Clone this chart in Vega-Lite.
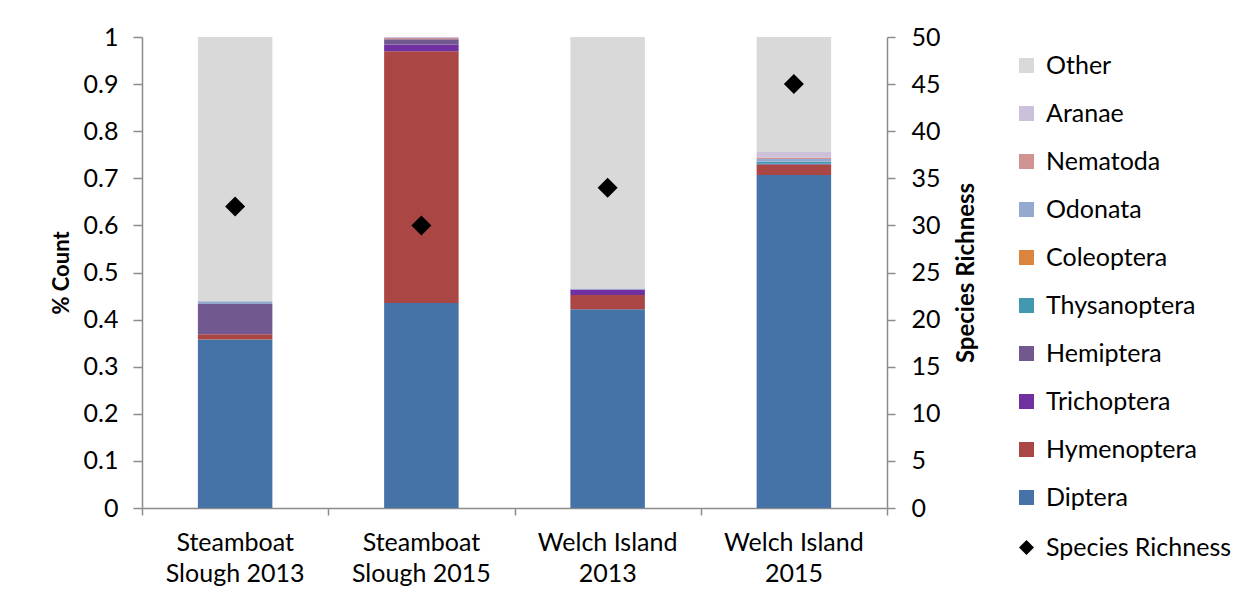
{
  "$schema": "https://vega.github.io/schema/vega-lite/v6.json",
  "width": 745,
  "height": 471,
  "autosize": {"type": "none"},
  "padding": {"left": 142, "top": 37, "right": 365, "bottom": 99},
  "background": "white",
  "config": {
    "font": "Lato",
    "view": {"stroke": null},
    "axis": {
      "labelFont": "Lato",
      "titleFont": "Lato",
      "labelColor": "#000000",
      "titleColor": "#000000",
      "domainColor": "#8c8c8c",
      "tickColor": "#8c8c8c",
      "domainWidth": 1.5,
      "tickWidth": 1.5,
      "grid": false
    },
    "legend": {
      "labelFont": "Lato",
      "labelFontSize": 25,
      "labelColor": "#000000",
      "labelLimit": 300,
      "padding": 0
    }
  },
  "datasets": {
    "composition": [
      {"site": "Steamboat\nSlough 2013", "taxon": "Diptera", "share": 0.358},
      {"site": "Steamboat\nSlough 2013", "taxon": "Hymenoptera", "share": 0.011},
      {"site": "Steamboat\nSlough 2013", "taxon": "Hemiptera", "share": 0.064},
      {"site": "Steamboat\nSlough 2013", "taxon": "Odonata", "share": 0.006},
      {"site": "Steamboat\nSlough 2013", "taxon": "Other", "share": 0.561},
      {"site": "Steamboat\nSlough 2015", "taxon": "Diptera", "share": 0.435},
      {"site": "Steamboat\nSlough 2015", "taxon": "Hymenoptera", "share": 0.535},
      {"site": "Steamboat\nSlough 2015", "taxon": "Trichoptera", "share": 0.014},
      {"site": "Steamboat\nSlough 2015", "taxon": "Hemiptera", "share": 0.011},
      {"site": "Steamboat\nSlough 2015", "taxon": "Nematoda", "share": 0.003},
      {"site": "Steamboat\nSlough 2015", "taxon": "Aranae", "share": 0.002},
      {"site": "Welch Island\n2013", "taxon": "Diptera", "share": 0.422},
      {"site": "Welch Island\n2013", "taxon": "Hymenoptera", "share": 0.030},
      {"site": "Welch Island\n2013", "taxon": "Trichoptera", "share": 0.012},
      {"site": "Welch Island\n2013", "taxon": "Odonata", "share": 0.002},
      {"site": "Welch Island\n2013", "taxon": "Other", "share": 0.534},
      {"site": "Welch Island\n2015", "taxon": "Diptera", "share": 0.707},
      {"site": "Welch Island\n2015", "taxon": "Hymenoptera", "share": 0.022},
      {"site": "Welch Island\n2015", "taxon": "Hemiptera", "share": 0.002},
      {"site": "Welch Island\n2015", "taxon": "Thysanoptera", "share": 0.004},
      {"site": "Welch Island\n2015", "taxon": "Odonata", "share": 0.006},
      {"site": "Welch Island\n2015", "taxon": "Nematoda", "share": 0.003},
      {"site": "Welch Island\n2015", "taxon": "Aranae", "share": 0.012},
      {"site": "Welch Island\n2015", "taxon": "Other", "share": 0.244}
    ],
    "richness": [
      {"site": "Steamboat\nSlough 2013", "richness": 32},
      {"site": "Steamboat\nSlough 2015", "richness": 30},
      {"site": "Welch Island\n2013", "richness": 34},
      {"site": "Welch Island\n2015", "richness": 45}
    ]
  },
  "layer": [
    {
      "data": {"name": "composition"},
      "transform": [
        {
          "calculate": "indexof(['Diptera','Hymenoptera','Trichoptera','Hemiptera','Thysanoptera','Coleoptera','Odonata','Nematoda','Aranae','Other'], datum.taxon)",
          "as": "stackRank"
        }
      ],
      "mark": {"type": "bar", "width": {"band": 0.4}},
      "encoding": {
        "x": {
          "field": "site",
          "type": "nominal",
          "sort": ["Steamboat\nSlough 2013", "Steamboat\nSlough 2015", "Welch Island\n2013", "Welch Island\n2015"],
          "scale": {"paddingInner": 0, "paddingOuter": 0},
          "axis": {
            "title": null,
            "orient": "bottom",
            "labels": false,
            "tickSize": 7,
            "tickBand": "extent"
          }
        },
        "y": {
          "field": "share",
          "type": "quantitative",
          "stack": "zero",
          "scale": {"domain": [0, 1], "nice": false},
          "axis": {
            "title": "% Count",
            "titleFontSize": 22,
            "titleFontWeight": "bold",
            "titlePadding": 10,
            "labelFontSize": 25,
            "labelPadding": 15,
            "tickSize": 9,
            "format": ".1~f",
            "values": [0, 0.1, 0.2, 0.3, 0.4, 0.5, 0.6, 0.7, 0.8, 0.9, 1]
          }
        },
        "color": {
          "field": "taxon",
          "type": "nominal",
          "scale": {
            "domain": ["Other", "Aranae", "Nematoda", "Odonata", "Coleoptera", "Thysanoptera", "Hemiptera", "Trichoptera", "Hymenoptera", "Diptera"],
            "range": ["#d9d9d9", "#ccc1da", "#d19392", "#93a9cf", "#db843d", "#4198af", "#71588f", "#7030a0", "#aa4643", "#4572a7"]
          },
          "legend": {
            "title": null,
            "orient": "none",
            "legendX": 872,
            "legendY": 16,
            "symbolType": "square",
            "symbolSize": 225,
            "symbolStrokeWidth": 0,
            "labelOffset": 7,
            "rowPadding": 22
          }
        },
        "order": {"field": "stackRank", "type": "quantitative", "sort": "ascending"}
      }
    },
    {
      "data": {"name": "richness"},
      "transform": [{"calculate": "'Species Richness'", "as": "series"}],
      "mark": {"type": "point", "shape": "diamond", "filled": true, "color": "#000000", "size": 400, "opacity": 1},
      "encoding": {
        "x": {
          "field": "site",
          "type": "nominal",
          "sort": ["Steamboat\nSlough 2013", "Steamboat\nSlough 2015", "Welch Island\n2013", "Welch Island\n2015"]
        },
        "y": {
          "field": "richness",
          "type": "quantitative",
          "scale": {"domain": [0, 50], "nice": false},
          "axis": {
            "title": "Species Richness",
            "orient": "right",
            "titleFontSize": 24,
            "titleFontWeight": "bold",
            "titleAngle": 270,
            "titlePadding": 38,
            "labelFontSize": 25,
            "labelPadding": 16,
            "tickSize": 8,
            "values": [0, 5, 10, 15, 20, 25, 30, 35, 40, 45, 50]
          }
        },
        "shape": {
          "field": "series",
          "type": "nominal",
          "scale": {"domain": ["Species Richness"], "range": ["diamond"]},
          "legend": {
            "title": null,
            "orient": "none",
            "legendX": 872,
            "legendY": 498,
            "symbolSize": 225,
            "symbolFillColor": "#000000",
            "symbolStrokeColor": "#000000",
            "symbolStrokeWidth": 0,
            "labelOffset": 7
          }
        }
      }
    },
    {
      "data": {"name": "richness"},
      "mark": {
        "type": "text",
        "lineBreak": "\n",
        "lineHeight": 31,
        "baseline": "top",
        "align": "center",
        "font": "Lato",
        "fontSize": 25,
        "color": "#000000"
      },
      "encoding": {
        "x": {
          "field": "site",
          "type": "nominal",
          "sort": ["Steamboat\nSlough 2013", "Steamboat\nSlough 2015", "Welch Island\n2013", "Welch Island\n2015"]
        },
        "y": {
          "datum": -0.0488,
          "type": "quantitative",
          "scale": {"domain": [0, 1], "nice": false},
          "axis": null
        },
        "text": {"field": "site", "type": "nominal"}
      }
    }
  ],
  "resolve": {"scale": {"y": "independent"}}
}
